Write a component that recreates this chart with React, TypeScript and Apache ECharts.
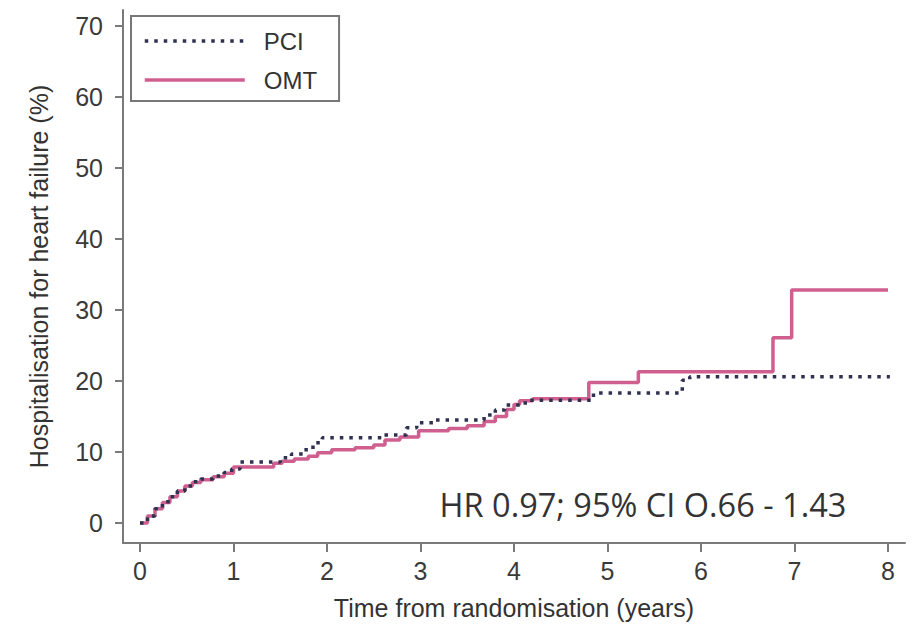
import React, { useEffect, useRef } from "react";
import * as echarts from "echarts";

// ---- data ----
const seriesNames = ["PCI", "OMT"];
const xTickValues = [0, 1, 2, 3, 4, 5, 6, 7, 8];
const yTickValues = [0, 10, 20, 30, 40, 50, 60, 70];

const pciTime = [0, 0.08, 0.16, 0.24, 0.32, 0.4, 0.48, 0.56, 0.65, 0.78, 0.9, 0.98, 1.07, 1.5, 1.62, 1.75, 1.85, 1.95, 2.6, 2.85, 2.96, 3.15, 3.68, 3.8, 3.9, 4.12, 4.85, 5.8, 5.88, 8.02];
const pciValue = [0, 1.0, 2.0, 3.0, 3.7, 4.5, 5.2, 5.8, 6.2, 6.6, 7.1, 7.6, 8.6, 9.2, 9.7, 10.3, 11.3, 12.0, 12.4, 13.4, 14.1, 14.5, 15.2, 15.9, 16.6, 17.3, 18.3, 20.1, 20.6, 20.6];

const omtTime = [0, 0.08, 0.16, 0.24, 0.32, 0.4, 0.48, 0.56, 0.65, 0.78, 0.9, 1.0, 1.43, 1.52, 1.65, 1.8, 1.9, 2.05, 2.3, 2.5, 2.62, 2.78, 2.98, 3.3, 3.5, 3.68, 3.8, 3.92, 4.0, 4.06, 4.2, 4.8, 5.33, 6.77, 6.97, 8.0];
const omtValue = [0, 1.0, 2.0, 2.9, 3.7, 4.5, 5.2, 5.7, 6.1, 6.5, 7.0, 7.9, 8.4, 8.7, 9.0, 9.4, 9.9, 10.3, 10.6, 11.0, 11.7, 12.1, 13.0, 13.3, 13.7, 14.3, 15.0, 16.0, 16.7, 17.2, 17.5, 19.8, 21.3, 26.1, 32.8, 32.8];

const annotationText = "HR 0.97; 95% CI O.66 - 1.43";
const xAxisTitle = "Time from randomisation (years)";
const yAxisTitle = "Hospitalisation for heart failure (%)";

const zip = (t: number[], v: number[]) => t.map((x, i) => [x, v[i]]);

export default function App() {
  const ref = useRef<HTMLDivElement>(null);
  useEffect(() => {
    if (!ref.current) return;
    const chart = echarts.init(ref.current, null, { renderer: "svg" });
    const axisColor = "#7a7a7a";
    const labelFont = "Liberation Sans";
    chart.setOption({
      animation: false,
      backgroundColor: "#ffffff",
      grid: { left: 123, right: 13, top: 10, bottom: 84, containLabel: false },
      legend: {
        data: seriesNames,
        orient: "vertical",
        left: 131,
        top: 16,
        borderColor: "#777",
        borderWidth: 2,
        padding: [13, 22, 9, 12],
        itemWidth: 100,
        itemHeight: 20,
        itemGap: 15,
        itemStyle: { opacity: 0 },
        lineStyle: { width: 3.5 },
        textStyle: { fontSize: 24, fontFamily: labelFont, color: "#333", padding: [0, 0, 0, 14] },
      },
      xAxis: {
        type: "value",
        min: -0.182,
        max: 8.182,
        splitLine: { show: false },
        axisLine: { show: true, onZero: false, lineStyle: { color: axisColor, width: 2 } },
        axisTick: { show: true, length: 9, customValues: xTickValues, lineStyle: { color: axisColor, width: 2 } },
        axisLabel: { customValues: xTickValues, fontSize: 25, fontFamily: labelFont, color: "#3a3a3a", margin: 15 },
        name: xAxisTitle,
        nameLocation: "middle",
        nameGap: 52,
        nameTextStyle: { fontSize: 25, fontFamily: labelFont, color: "#333" },
      },
      yAxis: {
        type: "value",
        min: -2.82,
        max: 72.25,
        splitLine: { show: false },
        axisLine: { show: true, onZero: false, lineStyle: { color: axisColor, width: 2 } },
        axisTick: { show: true, length: 8, customValues: yTickValues, lineStyle: { color: axisColor, width: 2 } },
        axisLabel: { customValues: yTickValues, fontSize: 25, fontFamily: labelFont, color: "#3a3a3a", margin: 20 },
        name: yAxisTitle,
        nameLocation: "middle",
        nameGap: 72,
        nameTextStyle: { fontSize: 25, fontFamily: labelFont, color: "#333" },
      },
      series: [
        {
          name: "OMT",
          type: "line",
          step: "end",
          symbol: "none",
          showSymbol: false,
          data: zip(omtTime, omtValue),
          lineStyle: { color: "#cf5f8f", width: 3.5 },
          itemStyle: { color: "#cf5f8f" },
          z: 2,
        },
        {
          name: "PCI",
          type: "line",
          step: "end",
          symbol: "none",
          showSymbol: false,
          data: zip(pciTime, pciValue),
          lineStyle: { color: "#2e3150", width: 3.5, type: [3.5, 6] },
          itemStyle: { color: "#2e3150" },
          z: 3,
        },
      ],
      graphic: [
        {
          type: "text",
          x: 643,
          y: 504,
          style: {
            text: annotationText,
            fontSize: 32.5,
            fontFamily: "Open Sans",
            fill: "#333",
            align: "center",
            verticalAlign: "middle",
            textAlign: "center",
            textVerticalAlign: "middle",
          },
        },
      ],
    });
    return () => chart.dispose();
  }, []);
  return (
    <div
      ref={ref}
      style={{ position: "absolute", left: 0, top: 0, width: 918, height: 627, background: "#fff" }}
    />
  );
}
